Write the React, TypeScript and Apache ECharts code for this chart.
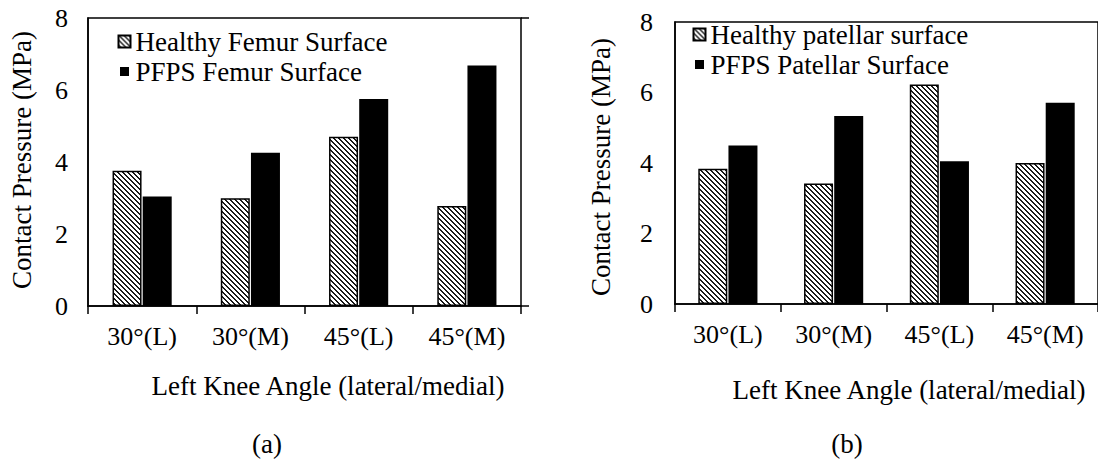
import { useEffect, useRef } from 'react';
import * as echarts from 'echarts';

// Knee angle categories (lateral / medial)
const categories = ['30°(L)', '30°(M)', '45°(L)', '45°(M)'];

// (a) femur contact pressure, MPa
const femurHealthy = [3.76, 2.99, 4.7, 2.78];
const femurPfps = [3.04, 4.26, 5.75, 6.68];

// (b) patellar contact pressure, MPa
const patellaHealthy = [3.84, 3.42, 6.23, 4.0];
const patellaPfps = [4.5, 5.33, 4.05, 5.71];

// y axis range and step
const yMin = 0;
const yMax = 8;
const yStep = 2;

const FONT = "'Liberation Serif', 'Times New Roman', serif";

function hatchCanvas(): HTMLCanvasElement {
  const size = 5;
  const c = document.createElement('canvas');
  c.width = size;
  c.height = size;
  const ctx = c.getContext('2d')!;
  ctx.fillStyle = '#ffffff';
  ctx.fillRect(0, 0, size, size);
  ctx.fillStyle = '#1a1a1a';
  for (let y = 0; y < size; y++) {
    for (let x = 0; x < size; x++) {
      const d = (((x - y) % size) + size) % size;
      if (d === 0 || d === 1) ctx.fillRect(x, y, 1, 1);
    }
  }
  return c;
}

export default function App() {
  const ref = useRef<HTMLDivElement>(null);

  useEffect(() => {
    if (!ref.current) return;
    const chart = echarts.init(ref.current, undefined, { renderer: 'svg' });
    const hatch = {
      image: hatchCanvas().toDataURL(),
      repeat: 'repeat',
      imageWidth: 5,
      imageHeight: 5,
    } as any;

    const axisLineStyle = { color: '#000', width: 1.5 };
    const grids = [
      { left: 88, top: 18, width: 433, height: 288 },
      { left: 675, top: 22, width: 426, height: 282 },
    ];

    const xAxes = grids.map((_, i) => ({
      type: 'category',
      gridIndex: i,
      data: categories,
      boundaryGap: true,
      axisLine: { show: true, lineStyle: axisLineStyle },
      axisTick: { show: true, length: 8, inside: false, lineStyle: axisLineStyle },
      axisLabel: { fontSize: 26, color: '#000', fontFamily: FONT, margin: 17 },
      splitLine: { show: false },
    }));

    const yAxes: any[] = [];
    grids.forEach((_, i) => {
      yAxes.push({
        type: 'value',
        gridIndex: i,
        min: yMin,
        max: yMax,
        interval: yStep,
        axisLine: { show: true, lineStyle: axisLineStyle },
        axisTick: { show: false },
        axisLabel: { fontSize: 26, color: '#000', fontFamily: FONT, margin: i === 0 ? 20 : 22 },
        splitLine: { show: false },
      });
      // outer ticks only at the ends of the range
      yAxes.push({
        type: 'value',
        gridIndex: i,
        min: yMin,
        max: yMax,
        interval: yMax - yMin,
        axisLine: { show: false },
        axisTick: { show: true, length: 8, inside: false, lineStyle: axisLineStyle },
        axisLabel: { show: false },
        splitLine: { show: false },
      });
    });

    const healthyStyle = { color: hatch, borderColor: '#000', borderWidth: 1.5 };
    const pfpsStyle = { color: '#000' };
    const barCommon = { type: 'bar', barWidth: 29, barGap: '4%' };

    const series = [
      { ...barCommon, name: 'Healthy Femur Surface', xAxisIndex: 0, yAxisIndex: 0, data: femurHealthy, itemStyle: healthyStyle },
      { ...barCommon, name: 'PFPS Femur Surface', xAxisIndex: 0, yAxisIndex: 0, data: femurPfps, itemStyle: pfpsStyle },
      { ...barCommon, name: 'Healthy patellar surface', xAxisIndex: 1, yAxisIndex: 2, data: patellaHealthy, itemStyle: healthyStyle },
      { ...barCommon, name: 'PFPS Patellar Surface', xAxisIndex: 1, yAxisIndex: 2, data: patellaPfps, itemStyle: pfpsStyle },
    ];

    const legendCommon = {
      orient: 'vertical',
      selectedMode: false,
      icon: 'rect',
      itemWidth: 12,
      itemHeight: 12,
      itemGap: 3,
      padding: 0,
      itemStyle: { borderColor: '#000', borderWidth: 2 },
      textStyle: { fontSize: 27, color: '#000', fontFamily: FONT, lineHeight: 27 },
    };
    const hatchBox = { color: hatch, borderColor: '#000', borderWidth: 2 };
    const smallBox = { color: '#000', borderColor: '#fff', borderWidth: 3 };

    const titleText = (text: string, x: number, y: number, rotation = 0, size = 27) => ({
      type: 'text',
      x,
      y,
      rotation,
      style: {
        text,
        fill: '#000',
        font: `${size}px ${FONT}`,
        align: 'center',
        verticalAlign: 'middle',
      },
    });

    chart.setOption({
      animation: false,
      backgroundColor: '#fff',
      grid: grids.map((g) => ({ ...g, show: true, borderColor: '#000', borderWidth: 1.5, backgroundColor: 'transparent' })),
      xAxis: xAxes,
      yAxis: yAxes,
      legend: [
        {
          ...legendCommon,
          left: 117,
          top: 28,
          data: [
            { name: 'Healthy Femur Surface', itemStyle: hatchBox },
            { name: 'PFPS Femur Surface', itemStyle: smallBox },
          ],
        },
        {
          ...legendCommon,
          left: 692,
          top: 21,
          data: [
            { name: 'Healthy patellar surface', itemStyle: hatchBox },
            { name: 'PFPS Patellar Surface', itemStyle: smallBox },
          ],
        },
      ],
      series,
      graphic: [
        titleText('Contact Pressure (MPa)', 22, 160, Math.PI / 2),
        titleText('Contact Pressure (MPa)', 601, 167, Math.PI / 2),
        titleText('Left Knee Angle (lateral/medial)', 328, 386),
        titleText('Left Knee Angle (lateral/medial)', 909, 390),
        titleText('(a)', 267, 444),
        titleText('(b)', 847, 444),
      ],
    });

    return () => chart.dispose();
  }, []);

  return (
    <div
      ref={ref}
      style={{ position: 'absolute', left: 0, top: 0, width: 1098, height: 461 }}
    />
  );
}
